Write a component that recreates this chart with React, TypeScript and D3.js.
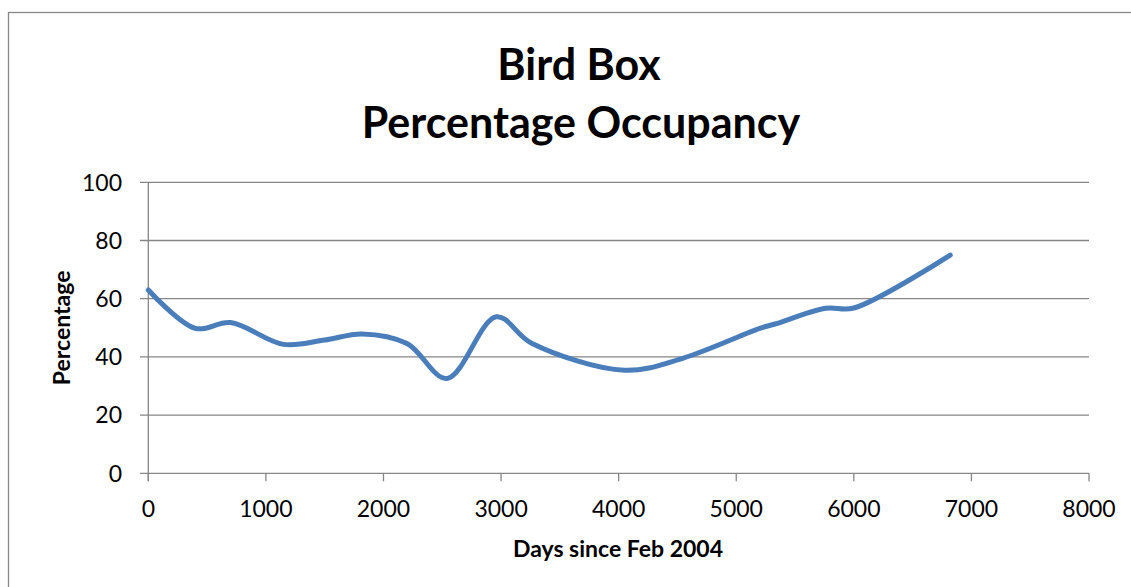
import * as React from 'react';
import * as d3 from 'd3';

const days = [0, 400, 700, 1150, 1500, 1820, 2200, 2540, 2960, 3260, 4050, 4550, 5200, 5330, 5760, 6000, 6820];
const occupancy = [63, 49.8, 51.8, 44.3, 45.8, 47.9, 44.6, 32.6, 53.8, 44.7, 35.4, 39.6, 49.8, 51.3, 56.7, 56.8, 75];
const xTicks = [0, 1000, 2000, 3000, 4000, 5000, 6000, 7000, 8000];
const yTicks = [0, 20, 40, 60, 80, 100];

const font = 'Lato, "Open Sans", sans-serif';

const App = () => {
	const width = 1131;
	const height = 587;
	const x = d3.scaleLinear().domain([0, 8000]).range([148.3, 1089]);
	const y = d3.scaleLinear().domain([0, 100]).range([473.3, 182.3]);

	const points = days.map((d, i) => ({ day: d, value: occupancy[i] }));
	const line = d3
		.line<{ day: number; value: number }>()
		.x(d => x(d.day))
		.y(d => y(d.value))
		.curve(d3.curveCatmullRom.alpha(0.5));

	return (
		<svg width={width} height={height} style={{ position: 'absolute', left: 0, top: 0 }}>
			<rect x={0} y={0} width={width} height={height} fill='#fff' />
			<rect x={8.5} y={12.5} width={width + 20} height={height + 20} fill='none' stroke='#888' strokeWidth={1.3} />

			<text x={579} y={80} textAnchor='middle' fontFamily={font} fontWeight='bold' fontSize={43}>
				Bird Box
			</text>
			<text x={581} y={138} textAnchor='middle' fontFamily={font} fontWeight='bold' fontSize={43}>
				Percentage Occupancy
			</text>

			{yTicks.map(t => (
				<g key={t}>
					<line x1={140} x2={x(8000)} y1={y(t)} y2={y(t)} stroke='#868686' strokeWidth={1.3} />
					<text x={122} y={y(t)} dy='0.36em' textAnchor='end' fontFamily={font} fontSize={23}>
						{t}
					</text>
				</g>
			))}
			<line x1={x(0)} x2={x(0)} y1={y(100)} y2={y(0) + 8} stroke='#868686' strokeWidth={1.3} />
			{xTicks.map(t => (
				<g key={t}>
					<line x1={x(t)} x2={x(t)} y1={y(0)} y2={y(0) + 8} stroke='#868686' strokeWidth={1.3} />
					<text x={x(t)} y={517} textAnchor='middle' fontFamily={font} fontSize={23}>
						{t}
					</text>
				</g>
			))}

			<path d={line(points) ?? ''} fill='none' stroke='#4a7ebb' strokeWidth={5} strokeLinecap='round' strokeLinejoin='round' />

			<text x={618} y={557} textAnchor='middle' fontFamily={font} fontWeight='bold' fontSize={23}>
				Days since Feb 2004
			</text>
			<text
				transform={`translate(70 ${y(50)}) rotate(-90)`}
				textAnchor='middle'
				fontFamily={font}
				fontWeight='bold'
				fontSize={23}
			>
				Percentage
			</text>
		</svg>
	);
};

export default App;
